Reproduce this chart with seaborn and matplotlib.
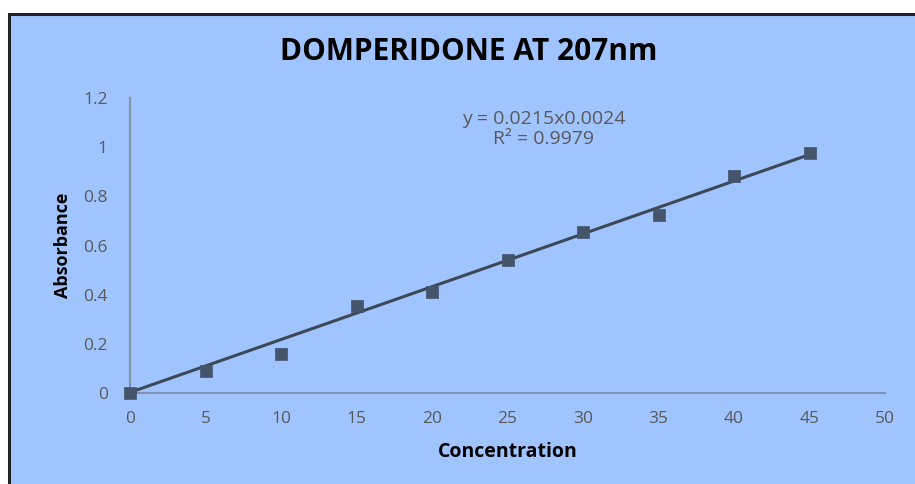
import numpy as np
import pandas as pd
import matplotlib
matplotlib.use("Agg")
import matplotlib.pyplot as plt
import seaborn as sns
from matplotlib.patches import Rectangle

concentration = [0, 5, 10, 15, 20, 25, 30, 35, 40, 45]
absorbance = [0.0, 0.09, 0.16, 0.354, 0.41, 0.54, 0.655, 0.724, 0.883, 0.976]
slope = 0.0215
intercept = 0.0024
r2 = 0.9979

df = pd.DataFrame({"Concentration": concentration, "Absorbance": absorbance})

sns.set_style("white")
plt.rcParams['font.family'] = ['Open Sans', 'DejaVu Sans']

bg = "#a0c4ff"
mark = "#44546a"
txt = "#595959"

fig = plt.figure(figsize=(9.15, 4.84), dpi=100)
fig.patch.set_facecolor("white")
fig.patches.append(Rectangle((9/915, -0.01), 1.0, (484-14)/484 + 0.01, transform=fig.transFigure,
                             facecolor=bg, edgecolor="#222222", linewidth=2.2, zorder=-10))

ax = fig.add_axes([130/915, 91/484, 755/915, 295/484])
ax.set_facecolor("none")

x_fit = np.array([concentration[0], concentration[-1]])
ax.plot(x_fit, slope * x_fit + intercept, color="#3d4756", linewidth=2.2, zorder=2)
sns.scatterplot(data=df, x="Concentration", y="Absorbance", marker="s", s=85,
                color=mark, edgecolor=mark, linewidth=0.5, ax=ax, zorder=3, clip_on=False)

ax.set_xlim(0, 50)
ax.set_ylim(0, 1.2)
ax.set_xticks(range(0, 51, 5))
ax.set_yticks([0, 0.2, 0.4, 0.6, 0.8, 1.0, 1.2])
ax.set_yticklabels(["0", "0.2", "0.4", "0.6", "0.8", "1", "1.2"])
ax.tick_params(axis="both", length=0, labelsize=12.5, colors=txt)
ax.tick_params(axis="x", pad=13)
ax.tick_params(axis="y", pad=16)

for side in ["top", "right"]:
    ax.spines[side].set_visible(False)
for side in ["left", "bottom"]:
    ax.spines[side].set_color("#7f93b0")
    ax.spines[side].set_linewidth(1.5)

ax.set_xlabel("Concentration", fontsize=14, fontweight="bold", color="black", labelpad=11)
ax.set_ylabel("Absorbance", fontsize=13, fontweight="bold", color="black", labelpad=8)

fig.text(469/915, 1 - 52/484, "DOMPERIDONE AT 207nm", fontsize=21.5, fontweight="bold",
         color="black", ha="center", va="center")
ax.text(0.548, 0.895, f"y = {slope}x{intercept}\nR² = {r2}", transform=ax.transAxes,
        ha="center", va="center", fontsize=14, color=txt, linespacing=1.1)

fig.savefig("out.png", dpi=100)
